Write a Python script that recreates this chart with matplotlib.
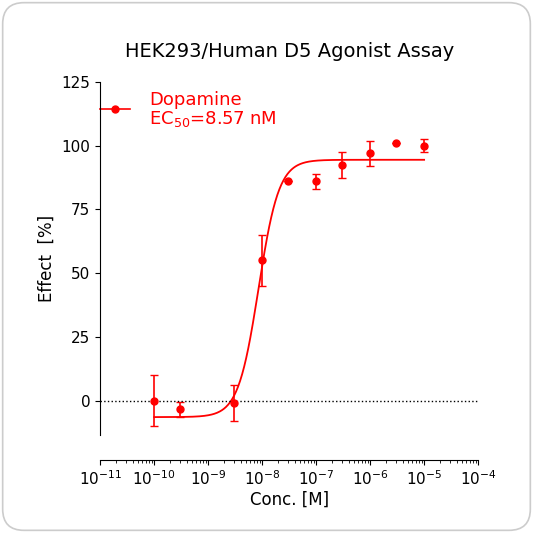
import numpy as np
import matplotlib.pyplot as plt
from matplotlib.patches import FancyBboxPatch

conc = [1e-10, 3e-10, 3e-9, 1e-8, 3e-8, 1e-7, 3e-7, 1e-6, 3e-6, 1e-5]
effect = [0, -3.5, -1, 55, 86, 86, 92.5, 97, 101, 100]
err = [10, 3, 7, 10, 0, 3, 5, 5, 0, 2.5]
bottom, top, ec50, hill = -6.5, 94.5, 8.57e-9, 2.3

red = "#ff0000"
fig = plt.figure(figsize=(5.33, 5.33), dpi=100)
fig.patches.append(FancyBboxPatch((0.005, 0.005), 0.99, 0.99, boxstyle="round,pad=0,rounding_size=0.04",
                                  transform=fig.transFigure, fc="white", ec="#cccccc", lw=1.2, zorder=-10))
ax = fig.add_axes([0.188, 0.184, 0.709, 0.662])
ax.patch.set_alpha(0)

xs = np.logspace(-10, -5, 400)
ax.plot(xs, bottom + (top - bottom) / (1 + (ec50 / xs) ** hill), color=red, lw=1.3)
ax.errorbar(conc, effect, yerr=err, fmt="o", color=red, ms=5, capsize=3, elinewidth=1.2)
ax.axhline(0, color="black", ls=":", lw=1)

ax.set_xscale("log")
ax.set_xlim(1e-11, 1e-4)
ax.set_ylim(-13.5, 125)
ax.set_yticks([0, 25, 50, 75, 100, 125])
ax.set_xticks([10.0 ** k for k in range(-11, -3)])
for s in ["top", "right"]:
    ax.spines[s].set_visible(False)
ax.spines["bottom"].set_position(("outward", 18))
ax.tick_params(labelsize=11)
ax.set_xlabel("Conc. [M]", fontsize=12, labelpad=2)
ax.set_ylabel("Effect  [%]", fontsize=12)
ax.set_title("HEK293/Human D5 Agonist Assay", fontsize=14, pad=18)

ax.plot([0.0, 0.08], [0.925, 0.925], transform=ax.transAxes, color=red, lw=1.2, clip_on=False)
ax.plot([0.04], [0.925], "o", transform=ax.transAxes, color=red, ms=5, clip_on=False)
ax.text(0.13, 0.925, "Dopamine", transform=ax.transAxes, color=red, fontsize=13, va="bottom")
ax.text(0.13, 0.925, "EC$_{50}$=8.57 nM", transform=ax.transAxes, color=red, fontsize=13, va="top")

fig.savefig("out.png", dpi=100)
